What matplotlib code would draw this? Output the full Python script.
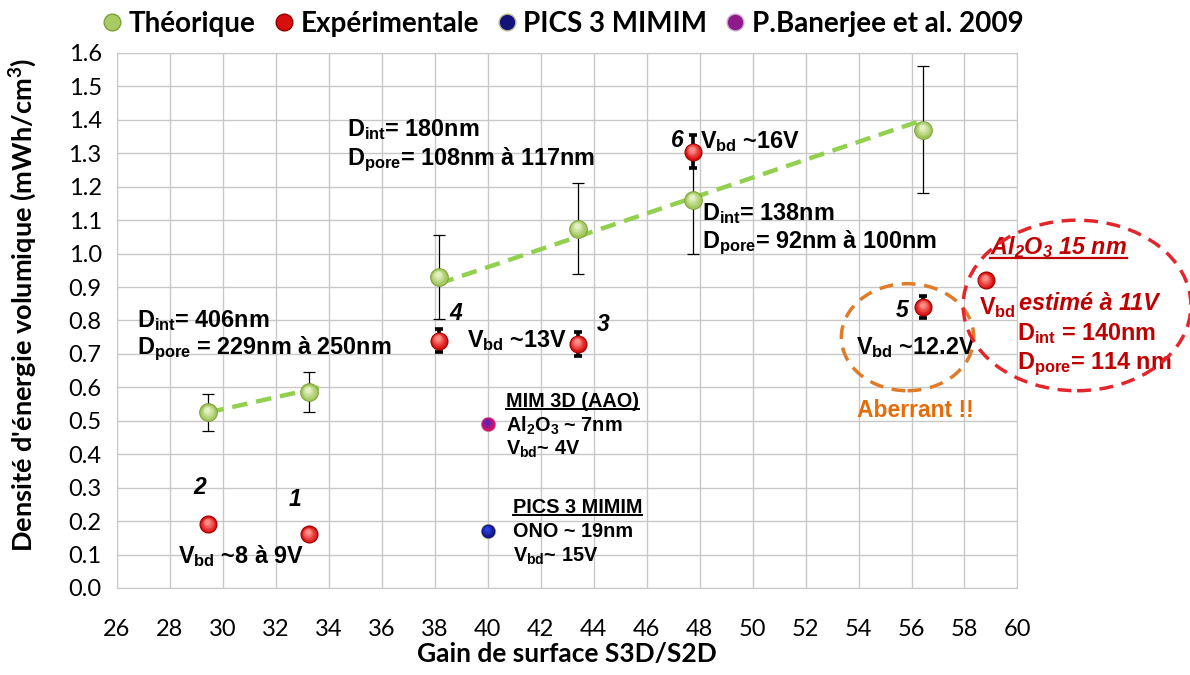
import numpy as np
import matplotlib
matplotlib.use("Agg")
import matplotlib.pyplot as plt
from matplotlib.patches import Ellipse
from matplotlib.lines import Line2D
from matplotlib.colors import to_rgb
from matplotlib.transforms import ScaledTranslation

plt.rcParams['mathtext.default'] = 'regular'

# ---- data -------------------------------------------------------------
theo_x = [29.45, 33.25, 38.15, 43.4, 47.75, 56.45]
theo_y = [0.525, 0.585, 0.93, 1.075, 1.16, 1.37]
theo_err = [0.055, 0.06, 0.125, 0.135, 0.16, 0.19]

exp_x = [33.25, 29.45, 43.4, 38.15, 56.45, 47.75, 58.8]
exp_y = [0.16, 0.19, 0.73, 0.74, 0.84, 1.305, 0.92]
exp_err = [0.0, 0.0, 0.035, 0.035, 0.033, 0.05, 0.0]

pics_x = [40.0]
pics_y = [0.17]
banerjee_x = [40.0]
banerjee_y = [0.49]

trend_low_x = [29.45, 33.65]
trend_low_y = [0.525, 0.60]
trend_high_x = [38.15, 56.45]
trend_high_y = [0.91, 1.40]

x_ticks = list(range(26, 61, 2))
y_ticks = [round(0.1 * i, 1) for i in range(17)]

legend_labels = ['Théorique', 'Expérimentale', 'PICS 3 MIMIM', 'P.Banerjee et al. 2009']

# ---- figure -------------------------------------------------------------
fig = plt.figure(figsize=(11.9, 6.75), dpi=100)
ax = fig.add_axes([0.0983, 0.1289, 0.7567, 0.7926])
ax.set_xlim(26, 60)
ax.set_ylim(0, 1.6)
ax.set_xticks(x_ticks)
ax.set_yticks(y_ticks)
ax.set_xticklabels([str(v) for v in x_ticks])
ax.set_yticklabels([f"{v:.1f}" for v in y_ticks])
ax.grid(True, color='#C8C8C8', linewidth=1.0)
ax.set_axisbelow(True)
for s in ax.spines.values():
    s.set_color('#C8C8C8')
ax.tick_params(length=0, labelsize=17, pad=11)
ax.tick_params(axis='x', pad=22)
for lab in ax.get_xticklabels() + ax.get_yticklabels():
    lab.set_family('Lato')

ax.set_xlabel('Gain de surface S3D/S2D', family='Lato', weight='bold', fontsize=19, labelpad=2)
ax.set_ylabel("Densité d'énergie volumique (mWh/cm$^3$)", family='Lato', weight='bold',
              fontsize=19.5)
ax.yaxis.set_label_coords(-0.087, 0.53)

# trend lines
ax.plot(trend_low_x, trend_low_y, ls=(0, (3.5, 2)), color='#92D050', lw=3.2, zorder=3)
ax.plot(trend_high_x, trend_high_y, ls=(0, (3.5, 2)), color='#92D050', lw=3.2, zorder=3)

# error bars
ax.errorbar(theo_x, theo_y, yerr=theo_err, fmt='none', ecolor='black', elinewidth=0.9,
            capsize=4, capthick=0.9, zorder=2)
ax.errorbar(exp_x, exp_y, yerr=exp_err, fmt='none', ecolor='black', elinewidth=2.6,
            capsize=3, capthick=2.6, zorder=2)


def blend(c1, c2, f):
    a, b = np.array(to_rgb(c1)), np.array(to_rgb(c2))
    return tuple(a + (b - a) * f)


def sphere(xs, ys, rim, mid, light, ms, z=5):
    ax.plot(xs, ys, 'o', ms=ms, mfc=rim, mec='none', zorder=z)
    n = 7
    for i in range(n):
        f = i / (n - 1)
        size = ms * (0.9 - 0.62 * f)
        off = ScaledTranslation(-ms * 0.06 * f / 72, ms * 0.14 * f / 72, fig.dpi_scale_trans)
        ax.plot(xs, ys, 'o', ms=size, mfc=blend(mid, light, f), mec='none',
                zorder=z + 0.01 * (i + 1), transform=ax.transData + off)


sphere(theo_x, theo_y, '#7E9F36', '#9DC455', '#E3F0C4', 13.5)
sphere(exp_x, exp_y, '#8E0000', '#D80E0E', '#FF8C86', 13)
sphere(pics_x, pics_y, '#B7B98A', '#12127A', '#2A3FE0', 11)
sphere(banerjee_x, banerjee_y, '#C9A6C9', '#E0105A', '#5A22B8', 11)

# legend
handles = [
    Line2D([], [], ls='none', marker='o', ms=12, mfc='#A8CC63', mec='#7E9F36'),
    Line2D([], [], ls='none', marker='o', ms=12, mfc='#D80E0E', mec='#8E0000'),
    Line2D([], [], ls='none', marker='o', ms=12, mfc='#12127A', mec='#B7B98A'),
    Line2D([], [], ls='none', marker='o', ms=12, mfc='#8E1A8C', mec='#C9A6C9'),
]
fig.legend(handles, legend_labels, loc='center', bbox_to_anchor=(0.472, 0.965), ncol=4,
           frameon=False, handletextpad=0.15, columnspacing=0.55, handlelength=0.9,
           prop={'family': 'Lato', 'weight': 'bold', 'size': 20})

# annotations
FS = 16.8
A = dict(family='Liberation Sans', weight='bold', fontsize=FS, color='black')
NUM = dict(family='Liberation Sans', weight='bold', style='italic', fontsize=16.5, color='black')
SMALL = dict(family='Liberation Sans', weight='bold', fontsize=14.3, color='black')
DR = '#C00000'

ax.text(26.75, 0.78, 'D$_{int}$= 406nm', **A)
ax.text(26.75, 0.70, 'D$_{pore}$ = 229nm à 250nm', **A)
ax.text(34.7, 1.35, 'D$_{int}$= 180nm', **A)
ax.text(34.7, 1.265, 'D$_{pore}$= 108nm à 117nm', **A)
ax.text(48.0, 1.315, 'V$_{bd}$ ~16V', **A)
ax.text(48.1, 1.10, 'D$_{int}$= 138nm', **A)
ax.text(48.1, 1.015, 'D$_{pore}$= 92nm à 100nm', **A)
ax.text(39.2, 0.72, 'V$_{bd}$ ~13V', **A)
ax.text(28.3, 0.075, 'V$_{bd}$ ~8 à 9V', **A)
ax.text(53.9, 0.70, 'V$_{bd}$ ~12.2V', **A)

ax.text(29.8 - 0.45, 0.28, '2', ha='right', **NUM)
ax.text(33.25 - 0.3, 0.245, '1', ha='right', **NUM)
ax.text(38.55, 0.80, '4', **NUM)
ax.text(44.1, 0.77, '3', **NUM)
ax.text(47.4, 1.32, '6', ha='right', **NUM)
ax.text(55.9, 0.81, '5', ha='right', **NUM)

ax.text(53.95, 0.51, 'Aberrant !!', family='Liberation Sans', weight='bold', fontsize=16.5,
        color='#E46C0A')

t1 = ax.text(40.7, 0.542, 'MIM 3D (AAO)', **SMALL)
ax.text(40.7, 0.468, 'Al$_2$O$_3$ ~ 7nm', **SMALL)
ax.text(40.7, 0.398, 'V$_{bd}$~ 4V', **SMALL)
t2 = ax.text(40.95, 0.225, 'PICS 3 MIMIM', **SMALL)
ax.text(40.95, 0.153, 'ONO ~ 19nm', **SMALL)
ax.text(40.95, 0.078, 'V$_{bd}$~ 15V', **SMALL)

t3 = ax.text(58.95, 1.0, 'Al$_2$O$_3$ 15 nm', family='Liberation Sans', weight='bold',
             style='italic', fontsize=FS, color=DR, clip_on=False)
ax.text(58.55, 0.82, 'V$_{bd}$', family='Liberation Sans', weight='bold', fontsize=FS,
        color=DR, clip_on=False)
ax.text(60.05, 0.83, 'estimé à 11V', family='Liberation Sans', weight='bold', style='italic',
        fontsize=FS, color=DR, clip_on=False)
ax.text(60.0, 0.74, 'D$_{int}$ = 140nm', family='Liberation Sans', weight='bold',
        fontsize=FS, color=DR, clip_on=False)
ax.text(60.0, 0.655, 'D$_{pore}$= 114 nm', family='Liberation Sans', weight='bold',
        fontsize=FS, color=DR, clip_on=False)

# highlight ellipses
ax.add_patch(Ellipse((55.85, 0.75), 5.0, 0.32, fill=False, ls=(0, (4, 2.5)), lw=2.5,
                     edgecolor='#E07B29', zorder=6, clip_on=False))
ax.add_patch(Ellipse((62.25, 0.845), 8.6, 0.51, fill=False, ls=(0, (4, 2.5)), lw=2.5,
                     edgecolor='#E3262C', zorder=6, clip_on=False))

# underline selected headings
fig.canvas.draw()
r = fig.canvas.get_renderer()
inv = fig.transFigure.inverted()
for t, col, w in [(t1, 'black', 1.4), (t2, 'black', 1.4), (t3, DR, 1.6)]:
    bb = t.get_window_extent(r)
    (x0, y0), (x1, _) = inv.transform([(bb.x0, bb.y0 + 2), (bb.x1, bb.y0)])
    fig.add_artist(Line2D([x0, x1], [y0, y0], color=col, lw=w))

fig.savefig('out.png', dpi=100)
